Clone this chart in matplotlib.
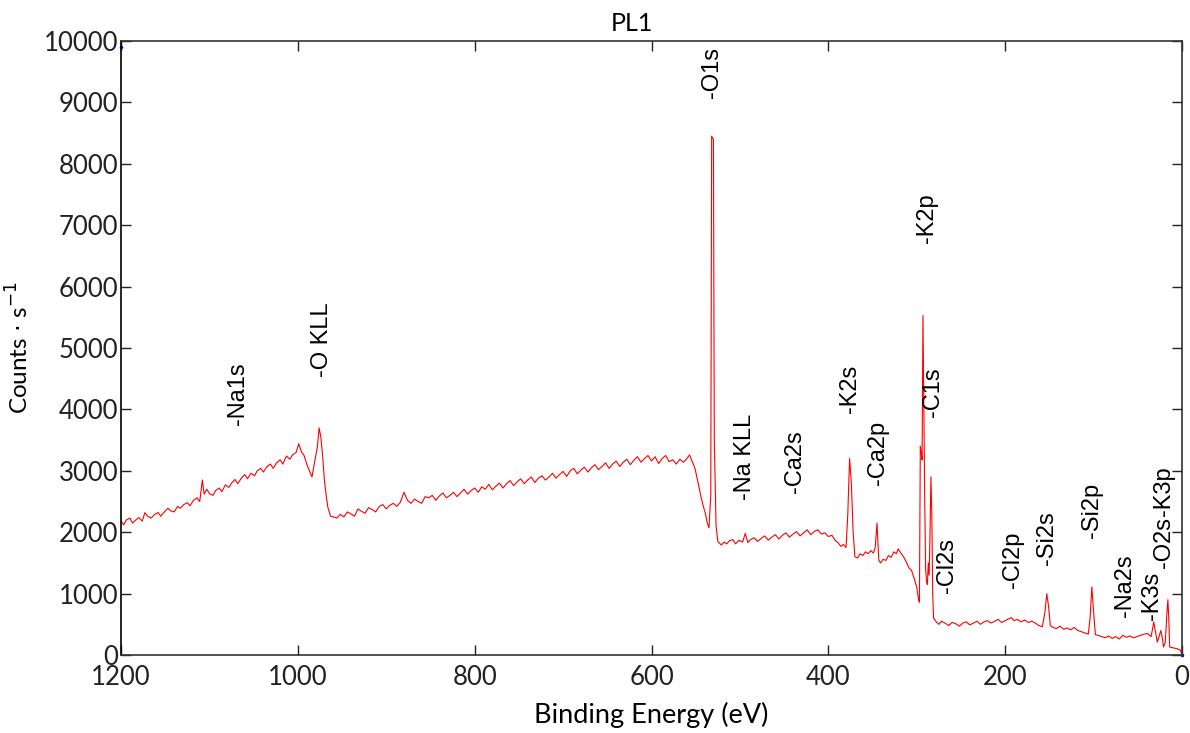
import numpy as np
import matplotlib.pyplot as plt

# Survey spectrum PL1 (binding energy in eV, counts per s)
be_high = [1200, 1197, 1194, 1190, 1187, 1184, 1180, 1176, 1173, 1170, 1166, 1162, 1158, 1155,
           1151, 1147, 1144, 1140, 1136, 1133, 1129, 1125, 1122, 1118, 1114, 1111, 1108, 1106,
           1103, 1100, 1096, 1093, 1089, 1086, 1082, 1078, 1075, 1071, 1068, 1064, 1060, 1057,
           1053, 1049, 1046, 1042, 1039, 1035, 1031, 1028, 1024, 1020, 1017, 1013, 1009, 1006,
           1002, 999, 996, 993, 990, 987, 984, 981, 978, 976, 974, 972, 970, 968, 966, 963, 960]
cps_high = [2180, 2120, 2200, 2230, 2150, 2190, 2240, 2180, 2320, 2260, 2230, 2290, 2320, 2260,
            2330, 2390, 2350, 2330, 2420, 2390, 2450, 2480, 2430, 2520, 2560, 2500, 2850, 2620,
            2700, 2630, 2600, 2680, 2720, 2660, 2770, 2730, 2800, 2860, 2790, 2880, 2940, 2870,
            2960, 2920, 3000, 3040, 2980, 3070, 3110, 3040, 3130, 3180, 3110, 3240, 3190, 3260,
            3300, 3440, 3310, 3250, 3110, 3000, 2900, 3150, 3380, 3700, 3550, 3250, 2850, 2600,
            2400, 2260, 2250]

be_mid = [956, 952, 948, 944, 940, 936, 932, 928, 924, 920, 916, 912, 908, 904, 900, 896, 892,
          888, 884, 880, 876, 872, 868, 864, 860, 856, 852, 848, 844, 840, 836, 832, 828, 824,
          820, 816, 812, 808, 804, 800, 796, 792, 788, 784, 780, 776, 772, 768, 764, 760, 756,
          752, 748, 744, 740, 736, 732, 728, 724, 720, 716, 712, 708, 704, 700, 696, 692, 688,
          684, 680, 676, 672, 668, 664, 660, 656, 652, 648, 644, 640, 636, 632, 628, 624, 620,
          616, 612, 608, 604, 600, 596, 592, 588, 584, 580, 576, 572, 568, 564, 560, 557, 554,
          551, 548, 545, 542, 539, 537, 535, 533, 532, 530, 529, 527, 525]
cps_mid = [2230, 2290, 2250, 2330, 2300, 2260, 2380, 2340, 2310, 2400, 2370, 2330, 2420, 2450,
           2380, 2440, 2470, 2420, 2490, 2650, 2520, 2470, 2540, 2500, 2470, 2580, 2560, 2600,
           2520, 2590, 2640, 2560, 2600, 2650, 2580, 2640, 2700, 2620, 2680, 2720, 2650, 2740,
           2700, 2780, 2690, 2750, 2800, 2720, 2790, 2840, 2760, 2820, 2870, 2790, 2850, 2900,
           2810, 2880, 2920, 2850, 2900, 2960, 2880, 2940, 2990, 2910, 3000, 3040, 2950, 3010,
           3060, 2980, 3050, 3100, 3020, 3070, 3130, 3040, 3110, 3160, 3070, 3140, 3190, 3100,
           3170, 3230, 3140, 3200, 3250, 3160, 3230, 3120, 3200, 3250, 3150, 3180, 3110, 3190,
           3140, 3200, 3260, 3150, 3050, 2850, 2640, 2450, 2300, 2150, 2070, 2600, 8450, 8400,
           3500, 2100, 1850]

be_low = [521, 518, 515, 512, 508, 505, 501, 497, 494, 491, 488, 484, 480, 476, 472, 468, 464,
          460, 456, 452, 448, 444, 440, 436, 432, 428, 424, 420, 416, 412, 408, 404, 400, 396,
          392, 389, 386, 383, 380, 378, 376, 374, 372, 370, 367, 364, 361, 358, 355, 352, 349,
          347, 345, 343, 341, 338, 335, 332, 329, 326, 323, 321, 318, 315, 312, 309, 306, 303,
          300, 298, 297, 296, 295, 294, 293, 292, 291, 290, 289, 288, 287, 286, 285, 284, 283,
          282, 281]
cps_low = [1790, 1840, 1810, 1860, 1880, 1810, 1870, 1840, 1980, 1830, 1880, 1910, 1850, 1900,
           1940, 1870, 1920, 1960, 1890, 1950, 1990, 1920, 1970, 2010, 1940, 1990, 2040, 1960,
           2010, 2040, 1970, 1990, 1930, 1950, 1860, 1830, 1770, 1800, 1750, 2300, 3200, 2800,
           2000, 1600, 1580, 1650, 1620, 1680, 1650, 1700, 1660, 1750, 2150, 1550, 1500, 1560,
           1540, 1620, 1590, 1680, 1650, 1730, 1660, 1600, 1520, 1420, 1380, 1250, 1100, 900,
           860, 3400, 3300, 3180, 5530, 4000, 2500, 1400, 1200, 1150, 1500, 1300, 2000, 2900,
           2300, 1000, 600]

be_val = [278, 275, 272, 268, 264, 260, 256, 252, 248, 244, 240, 236, 232, 228, 224, 220, 216,
          212, 208, 204, 200, 196, 193, 190, 186, 182, 178, 174, 170, 166, 162, 158, 155, 153,
          151, 149, 146, 142, 138, 134, 130, 126, 122, 118, 114, 110, 106, 104, 102, 100, 98,
          95, 91, 87, 83, 79, 75, 71, 67, 63, 59, 55, 51, 47, 43, 39, 35, 33, 32, 30, 28, 26, 24,
          22, 21, 19, 17, 16, 15, 14, 11, 8, 5, 2, 0]
cps_val = [540, 500, 550, 520, 480, 530, 510, 470, 520, 540, 490, 520, 550, 500, 540, 560, 520,
           550, 580, 530, 560, 590, 610, 560, 580, 540, 570, 530, 550, 520, 480, 460, 700, 1000,
           800, 480, 450, 430, 470, 420, 440, 410, 450, 400, 380, 360, 340, 600, 1110, 700, 330,
           320, 300, 280, 310, 270, 300, 260, 320, 290, 310, 280, 300, 320, 340, 350, 300, 450,
           540, 380, 210, 300, 400, 250, 130, 200, 700, 900, 600, 130, 120, 110, 100, 80, 0]

# peak labels: text, energy, count level of the label foot
peak_names = ['-Na1s', '-O KLL', '-O1s', '-Na KLL', '-Ca2s', '-K2s', '-Ca2p', '-K2p', '-C1s',
              '-Cl2s', '-Cl2p', '-Si2s', '-Si2p', '-Na2s', '-K3s', '-O2s', '-K3p']
peak_be = [1068, 973, 532, 494, 438, 376, 344, 289, 282, 266, 191, 153, 102, 64, 34, 20, 20]
peak_y = [3745, 4528, 9072, 2524, 2638, 3941, 2769, 6710, 3876, 1010, 1091, 1466, 1906, 619,
          570, 1417, 2260]

# two stray blue points of the original export
ref_be = [1200, 0]
ref_cps = [9900, 0]

energy = np.array(be_high + be_mid + be_low + be_val)
counts = np.array(cps_high + cps_mid + cps_low + cps_val)

plt.rcParams['font.family'] = ['Lato', 'DejaVu Sans']
fig = plt.figure(figsize=(11.9, 7.33), dpi=100)
ax = fig.add_axes([0.1017, 0.1064, 0.8916, 0.8376])

ax.plot(energy, counts, color='red', lw=0.8)
ax.plot(ref_be, ref_cps, 'o', color='blue', ms=1.5, clip_on=False)

for name, x, y in zip(peak_names, peak_be, peak_y):
    ax.text(x, y, name, rotation=90, ha='center', va='bottom', fontsize=17,
            family='Liberation Sans', color='black')

ax.set_xlim(1200, 0)
ax.set_ylim(0, 10000)
ax.set_xticks([1200, 1000, 800, 600, 400, 200, 0])
ax.set_yticks(np.arange(0, 10001, 1000))
ax.tick_params(direction='in', top=True, right=True, length=7, width=1, labelsize=18.5,
               colors='#222222')
ax.tick_params(axis='x', pad=7)
ax.tick_params(axis='y', pad=2)
for s in ax.spines.values():
    s.set_color('#333333')
    s.set_linewidth(1.2)
ax.spines['left'].set_color('black')

ax.set_xlabel('Binding Energy (eV)', fontsize=19.5, labelpad=9)
ax.set_ylabel(r'Counts $\cdot$ s$^{-1}$', fontsize=17.5, labelpad=8)
ax.set_title('PL1', fontsize=18, x=0.482, pad=7)

fig.savefig('out.png', dpi=100)
